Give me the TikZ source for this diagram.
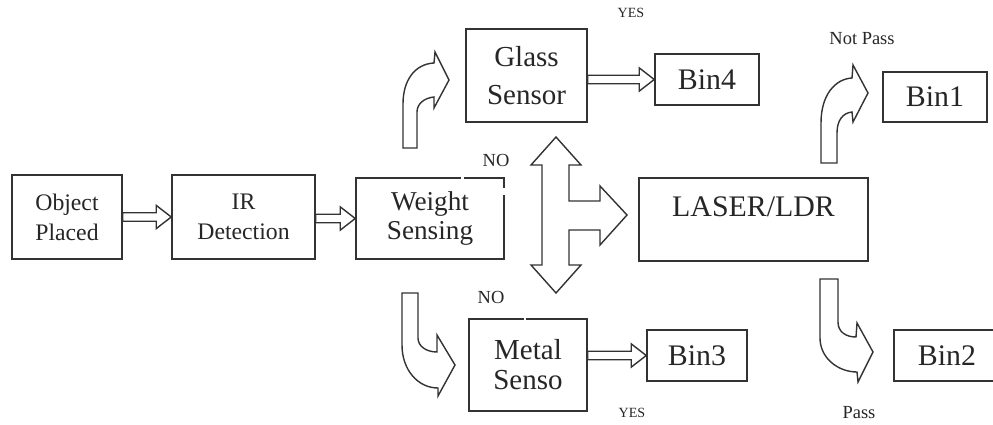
\documentclass[tikz,border=0pt]{standalone}
\usepackage{fontspec}
\setmainfont{Liberation Serif}
\usetikzlibrary{calc, positioning}

% hollow straight arrow between two named nodes
\newcommand{\hollowarrow}[2]{%
    \draw [flow] let \p1=(#1.east), \p2=(#2.west) in
        ({\x1},{\y2+2.4pt}) -- ({\x2-8.5pt},{\y2+2.4pt}) -- ({\x2-8.5pt},{\y2+6.6pt})
        -- ({\x2},{\y2}) -- ({\x2-8.5pt},{\y2-6.6pt}) -- ({\x2-8.5pt},{\y2-2.4pt})
        -- ({\x1},{\y2-2.4pt}) -- cycle;
}

\begin{document}
\begin{tikzpicture}[
    x=0.02cm, y=-0.02cm,
    line width=0.9pt,
    draw=black!80,
    text=black!85,
    box/.style={
        draw=black!80,
        rectangle,
        align=center,
        inner sep=0pt
    },
    stepbox/.style={
        box,
        font=\fontsize{13.5}{17}\selectfont
    },
    sensor/.style={
        box,
        font=\fontsize{16.5}{20}\selectfont
    },
    bin/.style={
        box,
        minimum width=2.08cm,
        minimum height=1.02cm,
        font=\fontsize{17}{20}\selectfont
    },
    flow/.style={
        draw=black!80,
        line width=0.8pt,
        line join=miter
    },
    tag/.style={
        font=\fontsize{10.5}{12}\selectfont
    }
]

    \useasboundingbox (0,0) rectangle (993,425);

    % Main chain
    \node [stepbox, minimum width=2.2cm, minimum height=1.68cm] (object) at (67,217) {Object\\Placed};
    \node [stepbox, minimum width=2.86cm, minimum height=1.68cm] (ir) at (243.5,217) {IR\\Detection};
    \node [box, font=\fontsize{15.5}{17}\selectfont, minimum width=2.96cm, minimum height=1.62cm] (weight) at (430,218.5) {Weight\\Sensing};

    \hollowarrow{object}{ir}
    \hollowarrow{ir}{weight}

    % Sensors
    \node [sensor, font=\fontsize{16.5}{21.6}\selectfont, minimum width=2.42cm, minimum height=1.86cm] (glass) at (526.5,75.5) {Glass\\Sensor};
    \node [sensor, font=\fontsize{16.5}{17}\selectfont, minimum width=2.36cm, minimum height=1.84cm] (metal) at (528,365) {Metal\\Senso};
    \node [box, font=\fontsize{17}{20}\selectfont, minimum width=4.58cm, minimum height=1.66cm, text depth=0.5cm] (laser) at (753.5,219.5) {LASER/LDR};

    % Bins
    \node [bin] (bin4) at (707,79.5) {Bin4};
    \node [bin, minimum height=1.0cm] (bin1) at (935,97) {Bin1};
    \node [bin, minimum width=2.0cm] (bin3) at (697,355.5) {Bin3};
    \node [bin, minimum width=2.12cm] (bin2) at (947,355.5) {Bin2};

    \hollowarrow{glass}{bin4}
    \hollowarrow{metal}{bin3}

    % gaps in the borders
    \fill [white] (461,176) rectangle (464,181);
    \fill [white] (502,188) rectangle (507,195);
    \fill [white] (524,317) rectangle (526,322);

    % Curved arrows
    \draw [flow] (403,148) -- (403,104) .. controls (403,80) and (415,64) .. (434,63)
        -- (435,52) -- (449,80) -- (434,108) -- (434,97)
        .. controls (424,98) and (417,104) .. (417,112) -- (417,148) -- cycle;
    \draw [flow] (821,163) -- (821,123) .. controls (821,95) and (835,79) .. (852,78)
        -- (853,65) -- (868,93) -- (853,122) -- (852,112)
        .. controls (843,113) and (837,120) .. (837,133) -- (837,163) -- cycle;
    \draw [flow] (402,293) -- (402,345) .. controls (402,370) and (418,388) .. (438,388)
        -- (438,396) -- (455,365) -- (437,335) -- (437,352)
        .. controls (426,352) and (418,346) .. (418,338) -- (418,293) -- cycle;
    \draw [flow] (820,279) -- (820,338) .. controls (820,358) and (838,372) .. (857,372)
        -- (858,382) -- (873,352) -- (857,323) -- (856,337)
        .. controls (846,337) and (838,332) .. (838,322) -- (838,279) -- cycle;

    % Three way arrow
    \draw [flow] (556,137) -- (581,165) -- (569,165) -- (569,201) -- (600,201) -- (600,186)
        -- (627,215) -- (600,245) -- (600,230) -- (569,230) -- (569,265) -- (581,265)
        -- (556,293) -- (531,265) -- (542,265) -- (542,165) -- (531,165) -- cycle;

    % Labels
    \node [font=\fontsize{8}{10}\selectfont] (yes4) at (631,13) {YES};
    \node [font=\fontsize{8}{10}\selectfont] (yes3) at (632,413) {YES};
    \node [tag] (noglass) at (496,160) {NO};
    \node [tag] (nometal) at (491,297) {NO};
    \node [tag] (notpass) at (862,39) {Not Pass};
    \node [tag] (pass) at (859,413) {Pass};

\end{tikzpicture}
\end{document}
